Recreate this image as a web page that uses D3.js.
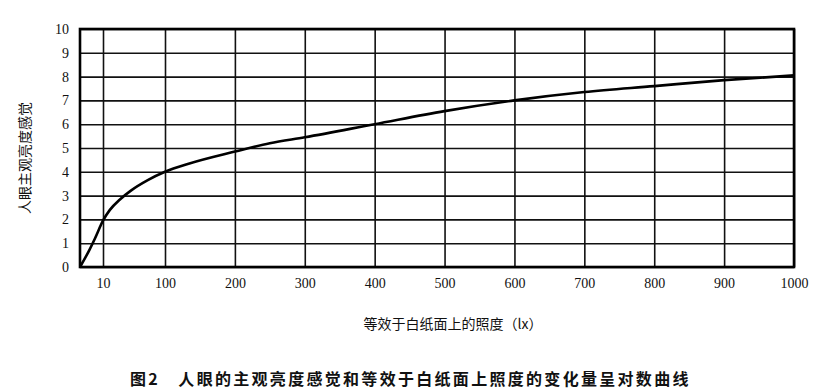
<!DOCTYPE html>
<html>
<head>
<meta charset="utf-8">
<script src="https://cdn.jsdelivr.net/npm/d3@7"></script>
<style>
  body { margin: 0; background: #fff; }
  svg { display: block; }
  .cjk { font-family: "Noto Sans CJK SC", sans-serif; fill: #111; }
</style>
</head>
<body>
<svg id="chart" width="820" height="392"></svg>
<script>
// 照度 (lx)
const lux = [0, 4, 6.5, 10, 20, 35, 50, 75, 100, 135, 200, 250, 300, 400, 500, 600, 700, 800, 900, 1000];
// 主观亮度感觉
const brightness = [0, 0.7, 1.2, 1.95, 2.4, 2.85, 3.2, 3.65, 4.0, 4.35, 4.85, 5.2, 5.45, 6.0, 6.55, 7.0, 7.35, 7.6, 7.85, 8.05];
const xTicks = [10, 100, 200, 300, 400, 500, 600, 700, 800, 900, 1000];
const yTicks = [0, 1, 2, 3, 4, 5, 6, 7, 8, 9, 10];

const svg = d3.select('#chart');
const plotLeft = 80, plotRight = 794, plotTop = 29, plotBottom = 267;

// x 轴前段被拉伸（0-10-100），之后线性
const x = d3.scaleLinear().domain([0, 10, 100, 1000]).range([plotLeft, 103, 165, plotRight]);
const y = d3.scaleLinear().domain([0, 10]).range([plotBottom, plotTop]);

const styleAxis = (g) => {
    g.attr('font-family', 'Liberation Serif, Times New Roman, serif').attr('font-size', 14);
    g.select('.domain').remove();
    g.selectAll('.tick line').attr('stroke', '#111').attr('stroke-width', 1.6);
    g.selectAll('.tick text').attr('fill', '#111');
};

// 网格 + 刻度文字
svg.append('g')
    .attr('transform', `translate(${plotLeft},0)`)
    .call(d3.axisLeft(y).tickValues(yTicks).tickSize(-(plotRight - plotLeft)).tickPadding(11))
    .call(styleAxis);

svg.append('g')
    .attr('transform', `translate(0,${plotBottom})`)
    .call(d3.axisBottom(x).tickValues(xTicks).tickFormat(d3.format('d'))
        .tickSize(-(plotBottom - plotTop)).tickPadding(11))
    .call(styleAxis);

// 外框
svg.append('rect')
    .attr('x', plotLeft).attr('y', plotTop)
    .attr('width', plotRight - plotLeft).attr('height', plotBottom - plotTop)
    .attr('fill', 'none').attr('stroke', '#000').attr('stroke-width', 2.6);

// 曲线
const line = d3.line()
    .x((d, i) => x(lux[i]))
    .y(d => y(d))
    .curve(d3.curveMonotoneX);

svg.append('path')
    .datum(brightness)
    .attr('d', line)
    .attr('fill', 'none')
    .attr('stroke', '#000')
    .attr('stroke-width', 2.6);

// 坐标轴标题
svg.append('text')
    .attr('class', 'cjk')
    .attr('transform', 'translate(30,158) rotate(-90)')
    .attr('text-anchor', 'middle')
    .style('font-size', '14px')
    .text('人眼主观亮度感觉');

svg.append('text')
    .attr('class', 'cjk')
    .attr('x', 453).attr('y', 329)
    .attr('text-anchor', 'middle')
    .style('font-size', '14px')
    .text('等效于白纸面上的照度（lx）');

// 图注
svg.append('text')
    .attr('class', 'cjk')
    .attr('x', 130).attr('y', 385)
    .style('font-size', '16px')
    .style('font-weight', 'bold')
    .style('letter-spacing', '2.3px')
    .text('图2　人眼的主观亮度感觉和等效于白纸面上照度的变化量呈对数曲线');
</script>
</body>
</html>
